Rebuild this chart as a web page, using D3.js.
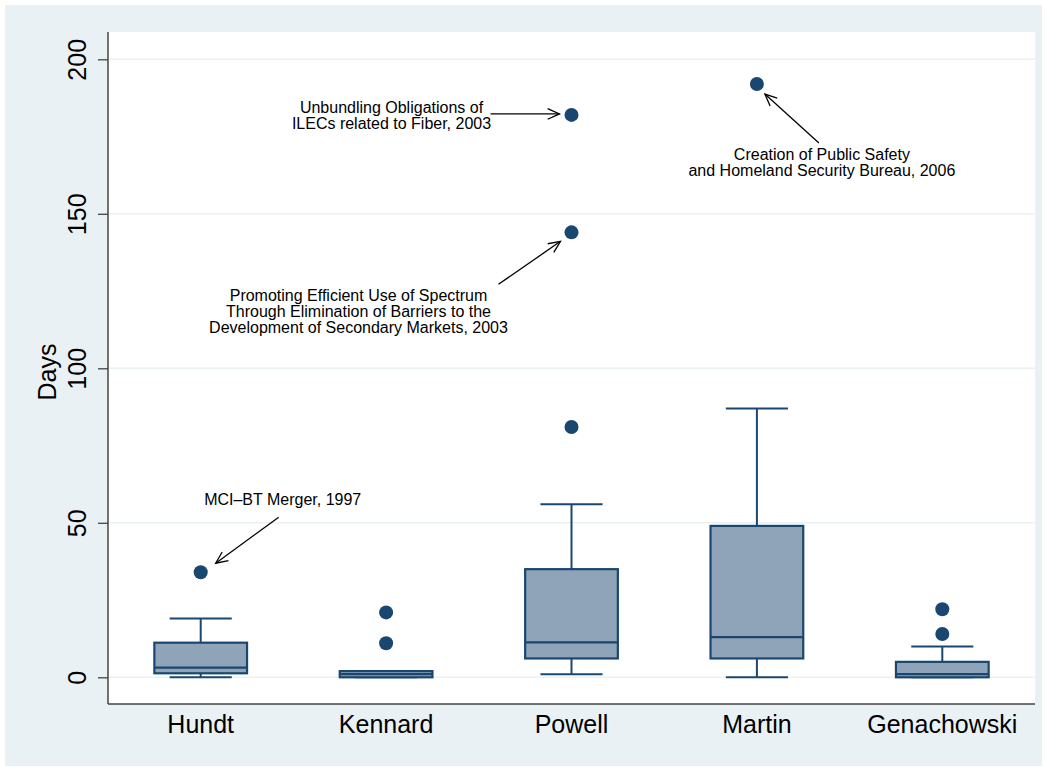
<!DOCTYPE html>
<html>
<head>
<meta charset="utf-8">
<script src="https://cdn.jsdelivr.net/npm/d3@7/dist/d3.min.js"></script>
<style>
  html, body { margin: 0; padding: 0; background: #ffffff; }
  svg { display: block; font-family: "Liberation Sans", Arial, Helvetica, sans-serif; }
</style>
</head>
<body>
<svg id="chart" width="1047" height="771"></svg>
<script>
// Days to completion, by FCC chairman
const chairmen  = ["Hundt", "Kennard", "Powell", "Martin", "Genachowski"];
const whiskerLo = [0, 0, 1, 0, 0];
const q1        = [1.3, 0, 6.1, 6.1, 0];
const median    = [3.1, 1, 11.3, 13, 1];
const q3        = [11.2, 2, 35, 49, 5];
const whiskerHi = [19, 2, 56, 87, 10];
const outliers  = [[34], [11, 21], [81, 144, 182], [192], [14, 22]];
const yTicks    = [0, 50, 100, 150, 200];

// Labelled outliers
const noteChair = ["Powell", "Martin", "Powell", "Hundt"];
const noteValue = [182, 192, 144, 34];
const noteText  = [
  ["Unbundling Obligations of", "ILECs related to Fiber, 2003"],
  ["Creation of Public Safety", "and Homeland Security Bureau, 2006"],
  ["Promoting Efficient Use of Spectrum", "Through Elimination of Barriers to the", "Development of Secondary Markets, 2003"],
  ["MCI\u2013BT Merger, 1997"]
];

// Label placement relative to the marked point (px): text centre, first baseline, arrow tail, arrow head
const noteLayout = [
  { tx: -180, ty: -2,  tail: [-81, -1],  head: [-12, -1] },
  { tx: 65,   ty: 76,  tail: [62, 59],   head: [8, 10] },
  { tx: -213, ty: 69,  tail: [-73, 52],  head: [-11, 9] },
  { tx: 82,   ty: -67, tail: [78, -55],  head: [15, -9] }
];

const navy = "#1a476f";
const boxFill = "#8fa4b8";
const bgBlue = "#eaf1f4";

const svg = d3.select("#chart");
const plot = { left: 108, right: 1035, top: 32, bottom: 704 };

// outer graph region
svg.append("rect").attr("x", 5).attr("y", 5).attr("width", 1037).attr("height", 761).attr("fill", bgBlue);
svg.append("rect").attr("x", plot.left).attr("y", plot.top)
  .attr("width", plot.right - plot.left).attr("height", plot.bottom - plot.top).attr("fill", "#ffffff");

const y = d3.scaleLinear().domain([0, 200]).range([677.3, 59.3]);
const x = d3.scaleBand().domain(chairmen).range([plot.left, plot.right]).padding(0);
const cx = c => x(c) + x.bandwidth() / 2;
const boxW = x.bandwidth() * 0.5;
const capW = x.bandwidth() * 0.335;

// gridlines
svg.append("g").selectAll("line").data(yTicks).join("line")
  .attr("x1", plot.left).attr("x2", plot.right)
  .attr("y1", d => y(d)).attr("y2", d => y(d))
  .attr("stroke", bgBlue).attr("stroke-width", 1.6);

// y axis
const yAxis = svg.append("g").attr("transform", `translate(${plot.left},0)`)
  .call(d3.axisLeft(y).tickValues(yTicks).tickSize(10).tickPadding(0).tickFormat(d3.format("d")));
yAxis.select(".domain").remove();
yAxis.selectAll(".tick line").attr("stroke", "#444").attr("stroke-width", 1.3);
yAxis.selectAll(".tick text")
  .attr("x", null).attr("dy", null)
  .attr("transform", "translate(-22,0) rotate(-90)")
  .attr("text-anchor", "middle")
  .attr("font-size", 25).attr("fill", "#000");

svg.append("line").attr("x1", plot.left).attr("x2", plot.left)
  .attr("y1", plot.top).attr("y2", plot.bottom).attr("stroke", "#444").attr("stroke-width", 1.5);
svg.append("line").attr("x1", plot.left).attr("x2", plot.right)
  .attr("y1", plot.bottom).attr("y2", plot.bottom).attr("stroke", "#444").attr("stroke-width", 1.5);

svg.append("text").attr("transform", `translate(56,372) rotate(-90)`)
  .attr("text-anchor", "middle").attr("font-size", 25).text("Days");

// x axis labels
const xAxis = svg.append("g").attr("transform", `translate(0,${plot.bottom})`)
  .call(d3.axisBottom(x).tickSize(0).tickPadding(0));
xAxis.select(".domain").remove();
xAxis.selectAll(".tick text").attr("dy", null).attr("y", 29).attr("font-size", 25).attr("fill", "#000");

// boxes
const rows = chairmen.map((c, i) => ({ c, lo: whiskerLo[i], q1: q1[i], med: median[i], q3: q3[i], hi: whiskerHi[i], out: outliers[i] }));
const g = svg.append("g");
const box = g.selectAll("g.box").data(rows).join("g").attr("class", "box");

box.append("line").attr("x1", d => cx(d.c)).attr("x2", d => cx(d.c))
  .attr("y1", d => y(d.q3)).attr("y2", d => y(d.hi)).attr("stroke", navy).attr("stroke-width", 2);
box.append("line").attr("x1", d => cx(d.c)).attr("x2", d => cx(d.c))
  .attr("y1", d => y(d.q1)).attr("y2", d => y(d.lo)).attr("stroke", navy).attr("stroke-width", 2);
box.append("line").attr("x1", d => cx(d.c) - capW / 2).attr("x2", d => cx(d.c) + capW / 2)
  .attr("y1", d => y(d.hi)).attr("y2", d => y(d.hi)).attr("stroke", navy).attr("stroke-width", 2);
box.append("line").attr("x1", d => cx(d.c) - capW / 2).attr("x2", d => cx(d.c) + capW / 2)
  .attr("y1", d => y(d.lo)).attr("y2", d => y(d.lo)).attr("stroke", navy).attr("stroke-width", 2);
box.append("rect").attr("x", d => cx(d.c) - boxW / 2).attr("width", boxW)
  .attr("y", d => y(d.q3)).attr("height", d => y(d.q1) - y(d.q3))
  .attr("fill", boxFill).attr("stroke", navy).attr("stroke-width", 2.2);
box.append("line").attr("x1", d => cx(d.c) - boxW / 2).attr("x2", d => cx(d.c) + boxW / 2)
  .attr("y1", d => y(d.med)).attr("y2", d => y(d.med)).attr("stroke", navy).attr("stroke-width", 2.2);

box.selectAll("circle").data(d => d.out.map(v => ({ c: d.c, v }))).join("circle")
  .attr("cx", d => cx(d.c)).attr("cy", d => y(d.v)).attr("r", 7).attr("fill", navy);

// annotations with arrows
const notes = svg.append("g");
noteText.forEach((lines, i) => {
  const px = cx(noteChair[i]), py = y(noteValue[i]);
  const L = noteLayout[i];
  const t = notes.append("text").attr("text-anchor", "middle").attr("font-size", 16).attr("fill", "#000");
  lines.forEach((s, j) => t.append("tspan").attr("x", px + L.tx).attr("y", py + L.ty + j * 16).text(s));
  const x0 = px + L.tail[0], y0 = py + L.tail[1];
  const x1 = px + L.head[0], y1 = py + L.head[1];
  notes.append("line").attr("x1", x0).attr("y1", y0).attr("x2", x1).attr("y2", y1)
    .attr("stroke", "#000").attr("stroke-width", 1.3);
  const ang = Math.atan2(y1 - y0, x1 - x0), len = 13, spread = 0.42;
  const p = a => [x1 - len * Math.cos(ang + a), y1 - len * Math.sin(ang + a)];
  const a1 = p(spread), a2 = p(-spread);
  notes.append("path").attr("d", `M${a1[0]},${a1[1]}L${x1},${y1}L${a2[0]},${a2[1]}`)
    .attr("fill", "none").attr("stroke", "#000").attr("stroke-width", 1.3);
});
</script>
</body>
</html>
